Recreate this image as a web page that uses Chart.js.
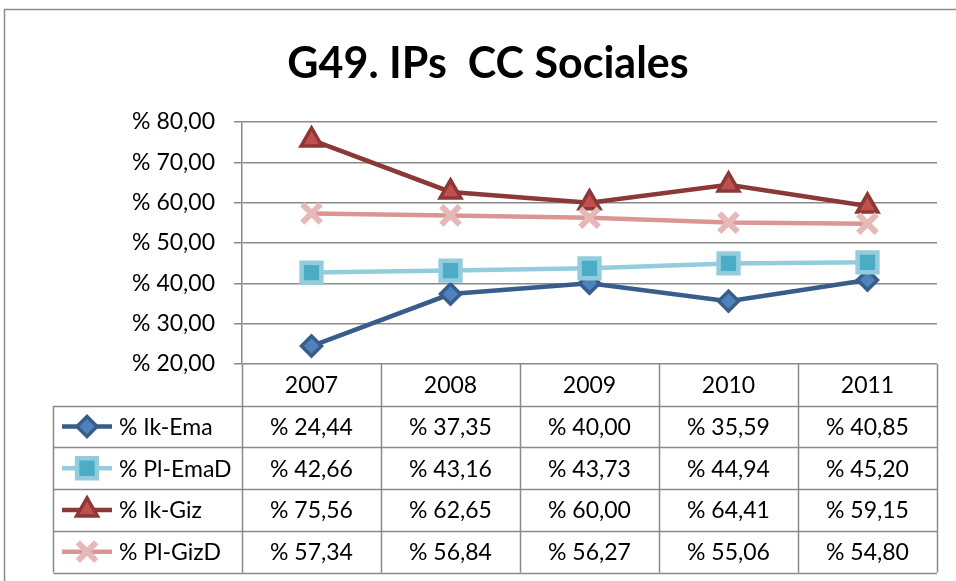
<!DOCTYPE html>
<html>
<head>
<meta charset="utf-8">
<script src="https://cdn.jsdelivr.net/npm/chart.js@4.4.1/dist/chart.umd.min.js"></script>
<style>
  html, body { margin: 0; padding: 0; background: #ffffff; }
  canvas { display: block; }
</style>
</head>
<body>
<canvas id="chart" width="956" height="581"></canvas>
<script>
// Categories, series and tick values
const years = ['2007', '2008', '2009', '2010', '2011'];
const seriesNames = ['% Ik-Ema', '% Pl-EmaD', '% Ik-Giz', '% Pl-GizD'];
const ikEma  = [24.44, 37.35, 40.00, 35.59, 40.85];
const plEmaD = [42.66, 43.16, 43.73, 44.94, 45.20];
const ikGiz  = [75.56, 62.65, 60.00, 64.41, 59.15];
const plGizD = [57.34, 56.84, 56.27, 55.06, 54.80];
const yTicks = [20, 30, 40, 50, 60, 70, 80];
const chartTitle = 'G49. IPs  CC Sociales';

const FONT = 'Lato, "Open Sans", "DejaVu Sans", sans-serif';
const TEXT_SIZE = 23;
const GRID = '#8a8a8a';

// Appearance of each series (line colour, marker shape and colours)
const styles = [
  { line: '#385D8A', fill: '#4F81BD', edge: '#385D8A', shape: 'rectRot',  radius: 10, edgeW: 3.5 },
  { line: '#93CDDD', fill: '#4BACC6', edge: '#93CDDD', shape: 'rect',     radius: 14, edgeW: 4.5 },
  { line: '#8C3836', fill: '#C0504D', edge: '#8C3836', shape: 'triangle', radius: 12, edgeW: 3.5 },
  { line: '#D99694', fill: '#E6B9B8', edge: '#E6B9B8', shape: 'crossRot', radius: 13, edgeW: 6 }
];
const seriesValues = [ikEma, plEmaD, ikGiz, plGizD];

const fmt = v => '% ' + v.toFixed(2).replace('.', ',');

const datasets = seriesValues.map((vals, i) => ({
  label: seriesNames[i],
  data: vals,
  borderColor: styles[i].line,
  borderWidth: 4.5,
  backgroundColor: styles[i].fill,
  pointStyle: styles[i].shape,
  pointRadius: styles[i].radius,
  pointHoverRadius: styles[i].radius,
  pointBackgroundColor: styles[i].fill,
  pointBorderColor: styles[i].edge,
  pointBorderWidth: styles[i].edgeW,
  tension: 0,
  fill: false,
  order: seriesValues.length - i
}));

function drawMarker(ctx, st, x, y) {
  ctx.save();
  ctx.fillStyle = st.fill;
  ctx.strokeStyle = st.edge;
  ctx.lineWidth = st.edgeW;
  Chart.helpers.drawPoint(ctx, { pointStyle: st.shape, radius: st.radius, borderWidth: st.edgeW, rotation: 0 }, x, y);
  ctx.restore();
}

// Outer frame, heading, and the data table drawn under the plot
const dataTable = {
  id: 'dataTable',
  beforeDraw(chart) {
    const ctx = chart.ctx;
    ctx.save();
    ctx.fillStyle = '#ffffff';
    ctx.fillRect(0, 0, chart.width, chart.height);
    ctx.strokeStyle = '#8c8c8c';
    ctx.lineWidth = 1.5;
    ctx.strokeRect(4.5, 9.5, chart.width + 20, chart.height + 20);

    ctx.fillStyle = '#000000';
    ctx.font = 'bold 43px ' + FONT;
    ctx.textAlign = 'center';
    ctx.textBaseline = 'middle';
    ctx.fillText(chartTitle, 488, 64);
    ctx.restore();
  },
  afterDraw(chart) {
    const { ctx, chartArea: a, scales: { x } } = chart;
    const rowH = 41.7;
    const top = a.bottom;
    const nRows = seriesNames.length;
    const tableLeft = 53.5;
    const bottom = top + rowH * (nRows + 1);
    const step = x.getPixelForValue(1) - x.getPixelForValue(0);
    const edges = years.map((_, i) => x.getPixelForValue(i) - step / 2);
    edges.push(x.getPixelForValue(years.length - 1) + step / 2);
    const right = edges[edges.length - 1];

    ctx.save();
    ctx.strokeStyle = GRID;
    ctx.lineWidth = 1.5;
    ctx.beginPath();
    for (let r = 1; r <= nRows + 1; r++) {
      const y = Math.round(top + r * rowH) + 0.5;
      ctx.moveTo(tableLeft, y);
      ctx.lineTo(right, y);
    }
    edges.forEach(ex => {
      const xx = Math.round(ex) + 0.5;
      ctx.moveTo(xx, top);
      ctx.lineTo(xx, bottom);
    });
    ctx.moveTo(tableLeft, top + rowH);
    ctx.lineTo(tableLeft, bottom);
    ctx.stroke();

    ctx.fillStyle = '#000000';
    ctx.font = TEXT_SIZE + 'px ' + FONT;
    ctx.textBaseline = 'middle';
    ctx.textAlign = 'center';
    years.forEach((yr, i) => {
      ctx.fillText(yr, x.getPixelForValue(i), top + rowH / 2 + 1);
    });

    seriesNames.forEach((name, r) => {
      const cy = top + rowH * (r + 1) + rowH / 2;
      const st = styles[r];
      // legend key: line sample with marker
      ctx.save();
      ctx.strokeStyle = st.line;
      ctx.lineWidth = 4.5;
      ctx.beginPath();
      ctx.moveTo(62, cy);
      ctx.lineTo(112, cy);
      ctx.stroke();
      ctx.restore();
      drawMarker(ctx, st, 87, cy);

      ctx.fillStyle = '#000000';
      ctx.textAlign = 'left';
      ctx.fillText(name, 119, cy + 1);
      ctx.textAlign = 'center';
      seriesValues[r].forEach((v, i) => {
        ctx.fillText(fmt(v), x.getPixelForValue(i), cy + 1);
      });
    });
    ctx.restore();
  }
};

new Chart(document.getElementById('chart'), {
  type: 'line',
  data: { labels: years, datasets },
  options: {
    responsive: false,
    animation: false,
    devicePixelRatio: 1,
    layout: { padding: { left: 0, right: 17, top: 122, bottom: 217 } },
    plugins: {
      legend: { display: false },
      tooltip: { enabled: false },
      title: { display: false }
    },
    scales: {
      x: {
        type: 'category',
        display: false,
        offset: true
      },
      y: {
        min: yTicks[0],
        max: yTicks[yTicks.length - 1],
        afterFit(scale) { scale.width = 242; },
        afterBuildTicks(scale) { scale.ticks = yTicks.map(v => ({ value: v })); },
        ticks: {
          color: '#000000',
          padding: 19,
          font: { family: FONT, size: TEXT_SIZE },
          callback: v => fmt(v)
        },
        grid: { color: GRID, lineWidth: 1.5, tickLength: 8, drawTicks: true },
        border: { display: true, color: GRID, width: 1.5 }
      }
    }
  },
  plugins: [dataTable]
});
</script>
</body>
</html>
